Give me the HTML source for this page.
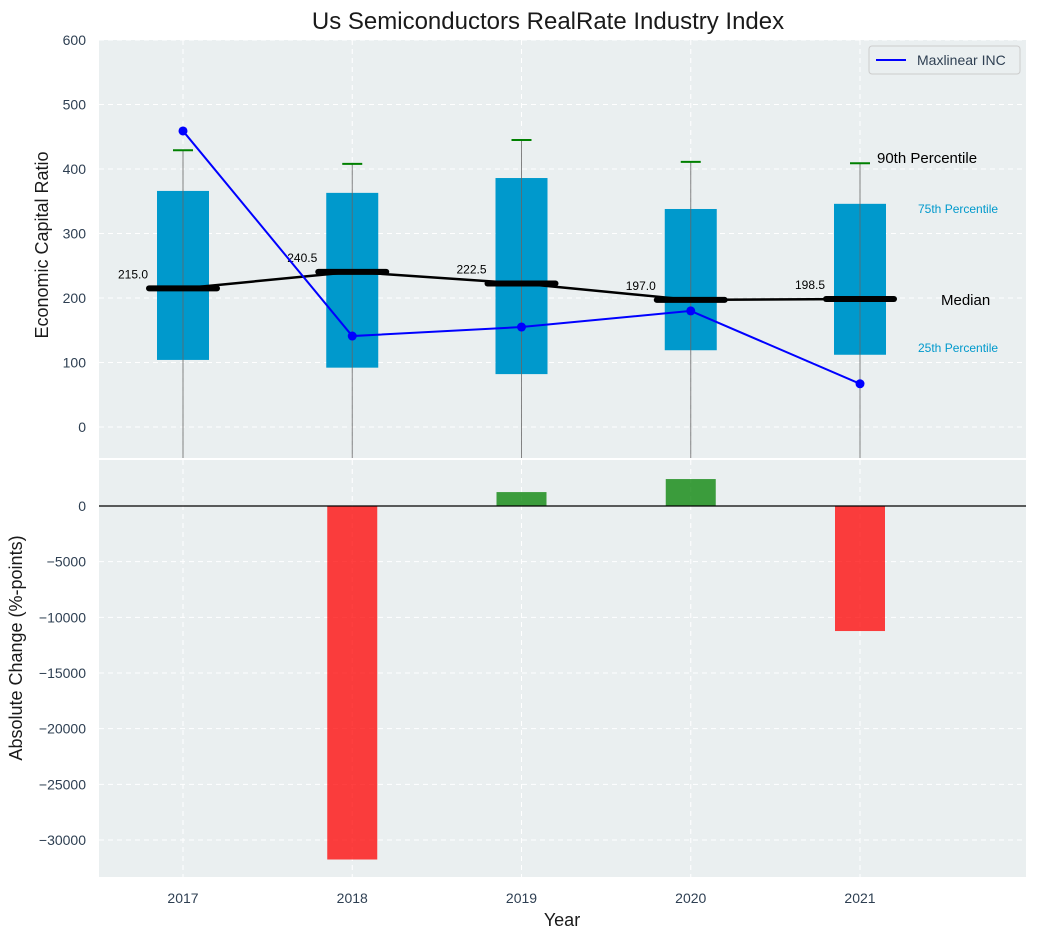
<!DOCTYPE html>
<html><head><meta charset="utf-8"><style>
body{margin:0;background:#fff;font-family:"Liberation Sans",sans-serif;}
svg text{font-family:"Liberation Sans","DejaVu Sans",sans-serif;}
</style></head><body>
<svg id="c" width="1038" height="940" xmlns="http://www.w3.org/2000/svg"></svg>
<script>
const years=[2017,2018,2019,2020,2021];
const p25=[104,92,82,119,112];
const p75=[366,363,386,338,346];
const p90=[429,408,445,411,409];
const medians=[215.0,240.5,222.5,197.0,198.5];
const company=[459,141,155,180,67];
const changes=[0,-31750,1250,2420,-11230];
const topTicks=[0,100,200,300,400,500,600];
const botTicks=[0,-5000,-10000,-15000,-20000,-25000,-30000];

const NS="http://www.w3.org/2000/svg";
const svg=document.getElementById('c');
function el(t,a,txt){const e=document.createElementNS(NS,t);for(const k in a)e.setAttribute(k,a[k]);if(txt!==undefined)e.textContent=txt;svg.appendChild(e);return e;}
const L=99,R=1026;
const x=i=>183+i*169.25;
const yT=v=>427-v*0.645;
const yB=v=>506-v*55.67/5000;

let p=el('rect',{x:L,y:40,width:R-L,height:418,fill:'#eaeff0'});


p=el('rect',{x:L,y:460,width:R-L,height:417,fill:'#eaeff0'});



topTicks.forEach(v=>{
  el('line',{x1:L,x2:R,y1:yT(v),y2:yT(v),stroke:'#fff','stroke-dasharray':'5,4','stroke-width':1});
  const t=el('text',{x:86,y:yT(v)+5,'text-anchor':'end','font-size':14,fill:'#2e3f52'},v);
  
  
});
botTicks.forEach(v=>{
  el('line',{x1:L,x2:R,y1:yB(v),y2:yB(v),stroke:'#fff','stroke-dasharray':'5,4','stroke-width':1});
  const t=el('text',{x:86,y:yB(v)+5,'text-anchor':'end','font-size':14,fill:'#2e3f52'},v===0?'0':'\u2212'+(-v));
  
  
});
years.forEach((yr,i)=>{
  el('line',{x1:x(i),x2:x(i),y1:40,y2:458,stroke:'#fff','stroke-dasharray':'5,4'});
  el('line',{x1:x(i),x2:x(i),y1:460,y2:877,stroke:'#fff','stroke-dasharray':'5,4'});
  const t=el('text',{x:x(i),y:903,'text-anchor':'middle','font-size':14,fill:'#2e3f52'},yr);
  
  
});

years.forEach((yr,i)=>{
  const b=el('rect',{x:x(i)-26,y:yT(p75[i]),width:52,height:yT(p25[i])-yT(p75[i]),fill:'#0099cc'});
  
  
  el('line',{x1:x(i),x2:x(i),y1:yT(p90[i]),y2:458,stroke:'#666','stroke-width':1,opacity:0.8});
  const w=el('line',{x1:x(i)-10,x2:x(i)+10,y1:yT(p90[i]),y2:yT(p90[i]),stroke:'green','stroke-width':2});
  
  
});
el('polyline',{points:medians.map((m,i)=>x(i)+','+yT(m)).join(' '),fill:'none',stroke:'#000','stroke-width':2.5});
medians.forEach((m,i)=>{
  const ml=el('line',{x1:x(i)-34,x2:x(i)+34,y1:yT(m),y2:yT(m),stroke:'#000','stroke-width':6,'stroke-linecap':'round'});
  
  
  const t=el('text',{x:x(i)-50,y:yT(m)-10,'text-anchor':'middle','font-size':12,fill:'#000'},m.toFixed(1));
  
  
});
el('polyline',{points:company.map((v,i)=>x(i)+','+yT(v)).join(' '),fill:'none',stroke:'#0000ff','stroke-width':2});
company.forEach((v,i)=>{
  const c=el('circle',{cx:x(i),cy:yT(v),r:4.5,fill:'#0000ff'});
  
  
});
let a=el('text',{x:877,y:yT(p90[4]),'font-size':15,fill:'#000'},'90th Percentile');

a=el('text',{x:918,y:yT(p75[4])+9,'font-size':12,fill:'#0099cc'},'75th Percentile');

a=el('text',{x:941,y:yT(medians[4])+6,'font-size':15,fill:'#000'},'Median');

a=el('text',{x:918,y:yT(p25[4])-3,'font-size':12,fill:'#0099cc'},'25th Percentile');


changes.forEach((v,i)=>{
  if(v===0)return;
  const y0=yB(Math.max(v,0)),y1=yB(Math.min(v,0));
  const b=el('rect',{x:x(i)-25,y:y0,width:50,height:y1-y0,fill:v<0?'#ff0000':'#008000',opacity:0.75});
  
  
});
el('line',{x1:L,x2:R,y1:yB(0),y2:yB(0),stroke:'#000','stroke-width':1.2});

const lg=el('rect',{x:869,y:46,width:151,height:28,fill:'#eaeff0',stroke:'#ccc',rx:3});

el('line',{x1:876,x2:906,y1:60,y2:60,stroke:'#0000ff','stroke-width':2});
a=el('text',{x:917,y:65,'font-size':14,fill:'#2e3f52'},'Maxlinear INC');


a=el('text',{x:548,y:29,'text-anchor':'middle','font-size':24,fill:'#1a1a1a'},'Us Semiconductors RealRate Industry Index');

a=el('text',{x:0,y:0,'text-anchor':'middle','font-size':18,fill:'#1a1a1a',transform:'translate(48,245) rotate(-90)'},'Economic Capital Ratio');

a=el('text',{x:0,y:0,'text-anchor':'middle','font-size':18,fill:'#1a1a1a',transform:'translate(22,648) rotate(-90)'},'Absolute Change (%-points)');

a=el('text',{x:562,y:926,'text-anchor':'middle','font-size':18,fill:'#1a1a1a'},'Year');

</script>
</body></html>
